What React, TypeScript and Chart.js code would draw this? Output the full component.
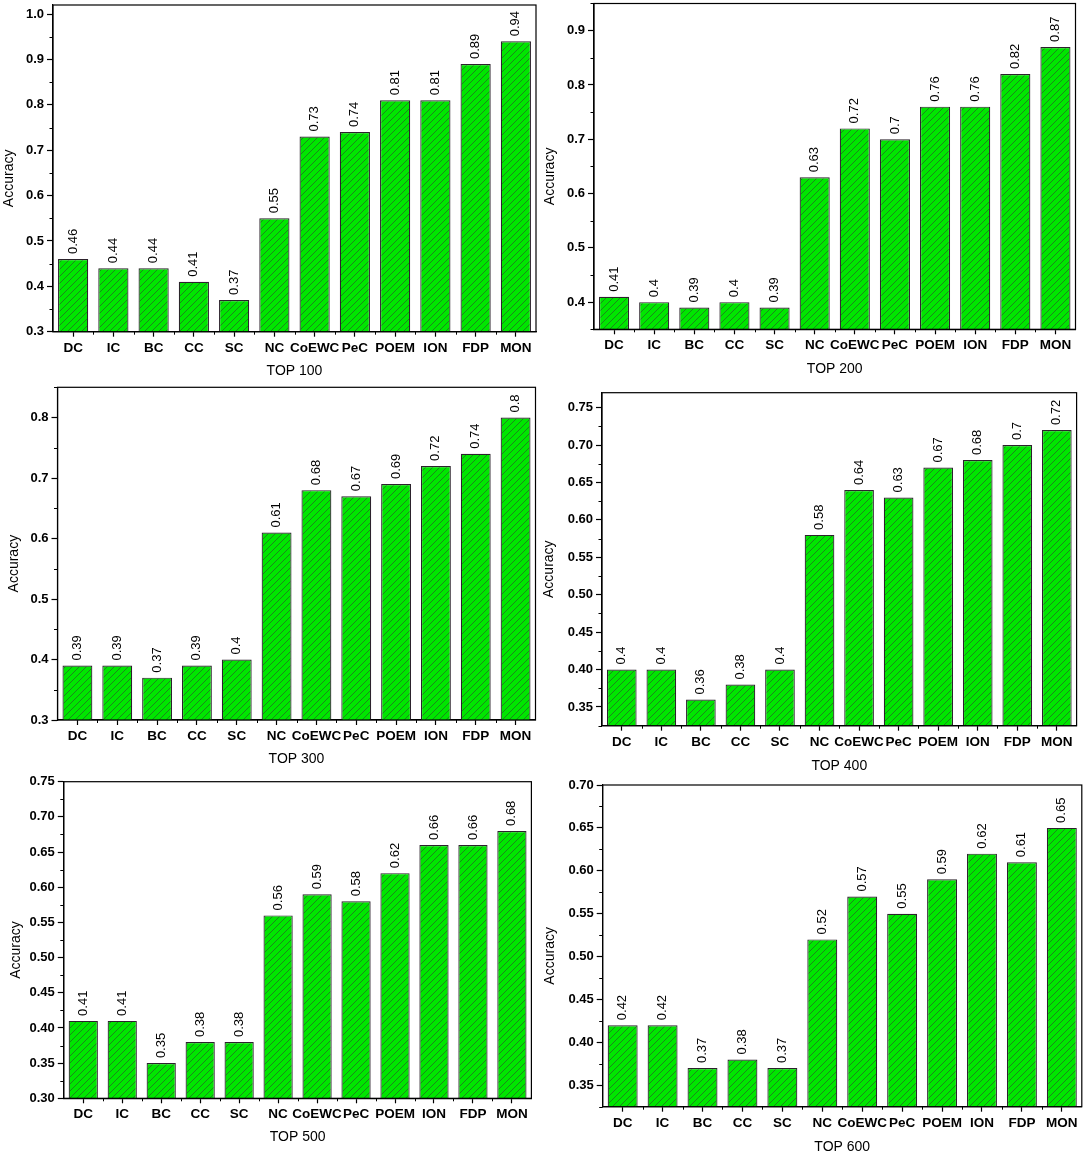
import React, { useEffect, useRef } from 'react'
import { Chart, registerables } from 'chart.js'

Chart.register(...registerables)

const categories = ['DC', 'IC', 'BC', 'CC', 'SC', 'NC', 'CoEWC', 'PeC', 'POEM', 'ION', 'FDP', 'MON']

const top100 = [0.46, 0.44, 0.44, 0.41, 0.37, 0.55, 0.73, 0.74, 0.81, 0.81, 0.89, 0.94]
const top200 = [0.41, 0.4, 0.39, 0.4, 0.39, 0.63, 0.72, 0.7, 0.76, 0.76, 0.82, 0.87]
const top300 = [0.39, 0.39, 0.37, 0.39, 0.4, 0.61, 0.68, 0.67, 0.69, 0.72, 0.74, 0.8]
const top400 = [0.4, 0.4, 0.36, 0.38, 0.4, 0.58, 0.64, 0.63, 0.67, 0.68, 0.7, 0.72]
const top500 = [0.41, 0.41, 0.35, 0.38, 0.38, 0.56, 0.59, 0.58, 0.62, 0.66, 0.66, 0.68]
const top600 = [0.42, 0.42, 0.37, 0.38, 0.37, 0.52, 0.57, 0.55, 0.59, 0.62, 0.61, 0.65]

const seriesList = [top100, top200, top300, top400, top500, top600]
const panelTitles = ['TOP 100', 'TOP 200', 'TOP 300', 'TOP 400', 'TOP 500', 'TOP 600']

// y axis limits and tick steps per panel
const yMins = [0.3, 0.35, 0.3, 0.325, 0.3, 0.325]
const yMaxs = [1.02, 0.95, 0.85, 0.77, 0.75, 0.7]
const majorSteps = [0.1, 0.1, 0.1, 0.05, 0.05, 0.05]
const minorSteps = [0.05, 0.05, 0.05, 0.025, 0.025, 0.025]
const tickDecimals = [1, 1, 1, 2, 2, 2]

const FONT = '"Liberation Sans", Arial, sans-serif'

// page placement of each panel: plot box [left, top, right, bottom]
const LAYOUT = [
  { x: 0, plot: [53, 5, 536, 331.7], yTitleX: 9, xTitleY: 372 },
  { x: 540, plot: [594, 3.5, 1075.5, 329.3], yTitleX: 550.5, xTitleY: 370 },
  { x: 0, plot: [57.5, 387.3, 535.5, 720], yTitleX: 14, xTitleY: 760 },
  { x: 540, plot: [602, 392.7, 1076.6, 725.7], yTitleX: 548.7, xTitleY: 766.7 },
  { x: 0, plot: [63.8, 781.7, 531.4, 1098.3], yTitleX: 15.7, xTitleY: 1137.7 },
  { x: 540, plot: [602.7, 785, 1081.8, 1106.7], yTitleX: 550.5, xTitleY: 1147.3 },
]

function makeHatch(): CanvasPattern | string {
  const s = 7
  const c = document.createElement('canvas')
  c.width = s
  c.height = s
  const g = c.getContext('2d')
  if (!g) return '#00e600'
  g.fillStyle = '#00e600'
  g.fillRect(0, 0, s, s)
  g.strokeStyle = '#1f7a1f'
  g.lineWidth = 0.9
  g.beginPath()
  g.moveTo(0, s)
  g.lineTo(s, 0)
  g.moveTo(-1, 1)
  g.lineTo(1, -1)
  g.moveTo(s - 1, s + 1)
  g.lineTo(s + 1, s - 1)
  g.stroke()
  return g.createPattern(c, 'repeat') || '#00e600'
}

function Panel({ index }: { index: number }) {
  const ref = useRef<HTMLCanvasElement>(null)
  const L = LAYOUT[index]
  const [pl, pt, pr, pb] = L.plot
  const top = Math.max(0, Math.floor(pt - 5))
  const width = Math.ceil(pr + 4 - L.x)
  const height = Math.round(L.xTitleY + 8.4 - top)

  useEffect(() => {
    if (!ref.current) return
    const values = seriesList[index]
    const yMin = yMins[index]
    const yMax = yMaxs[index]
    const major = majorSteps[index]
    const minor = minorSteps[index]
    const dec = tickDecimals[index]

    const decor = {
      id: 'decor',
      afterDraw(chart: Chart) {
        const { ctx, chartArea: ca } = chart
        const xs = chart.scales.x
        const ys = chart.scales.y
        ctx.save()
        // frame
        ctx.strokeStyle = '#000'
        ctx.lineWidth = 1.2
        ctx.strokeRect(ca.left, ca.top, ca.right - ca.left, ca.bottom - ca.top)
        // minor ticks on y
        ctx.lineWidth = 1
        ctx.beginPath()
        const k0 = Math.ceil(yMin / minor - 1e-6)
        const k1 = Math.floor(yMax / minor + 1e-6)
        for (let k = k0; k <= k1; k++) {
          if (k % 2 === 0) continue
          const py = Math.round(ys.getPixelForValue(k * minor)) + 0.5
          ctx.moveTo(ca.left - 3.5, py)
          ctx.lineTo(ca.left, py)
        }
        // minor ticks on x, between categories
        for (let i = 0; i < categories.length - 1; i++) {
          const px = Math.round((xs.getPixelForValue(i) + xs.getPixelForValue(i + 1)) / 2) + 0.5
          ctx.moveTo(px, ca.bottom)
          ctx.lineTo(px, ca.bottom + 3)
        }
        ctx.stroke()
        // value labels
        ctx.fillStyle = '#000'
        ctx.font = `13px ${FONT}`
        ctx.textAlign = 'left'
        ctx.textBaseline = 'middle'
        chart.getDatasetMeta(0).data.forEach((bar: any, i: number) => {
          ctx.save()
          ctx.translate(bar.x, bar.y - 5)
          ctx.rotate(-Math.PI / 2)
          ctx.fillText(String(values[i]), 0, 0)
          ctx.restore()
        })
        // y title
        ctx.font = `14px ${FONT}`
        ctx.textAlign = 'center'
        ctx.translate(L.yTitleX - L.x, (ca.top + ca.bottom) / 2 + 10)
        ctx.rotate(-Math.PI / 2)
        ctx.fillText('Accuracy', 0, 0)
        ctx.restore()
      },
    }

    const chart = new Chart(ref.current, {
      type: 'bar',
      data: {
        labels: categories,
        datasets: [{
          data: values,
          backgroundColor: makeHatch(),
          borderColor: '#2c222c',
          borderWidth: 1.2,
          barPercentage: 0.75,
          categoryPercentage: 1,
        }],
      },
      options: {
        responsive: false,
        animation: false,
        devicePixelRatio: 1,
        layout: { padding: { left: 0, top: pt - top, right: width - (pr - L.x), bottom: 0 } },
        plugins: { legend: { display: false }, tooltip: { enabled: false } },
        scales: {
          x: {
            offset: true,
            grid: { drawOnChartArea: false, drawTicks: true, tickLength: 5, tickColor: '#000', tickWidth: 1.2, offset: false },
            border: { display: true, color: '#000', width: 1.2 },
            ticks: {
              color: '#000',
              font: { family: FONT, size: 13.5, weight: 'bold' },
              maxRotation: 0,
              minRotation: 0,
              autoSkip: false,
              padding: 3,
            },
            title: { display: true, text: panelTitles[index], color: '#000', font: { family: FONT, size: 14 }, padding: 0 },
            afterFit: (s: any) => {
              s.height = height - (pb - top)
              s.paddingLeft = 0
              s.paddingRight = 0
            },
          },
          y: {
            min: yMin,
            max: yMax,
            grid: { drawOnChartArea: false, drawTicks: true, tickLength: 6, tickColor: '#000', tickWidth: 1.2 },
            border: { display: true, color: '#000', width: 1.2 },
            ticks: {
              autoSkip: false,
              color: '#000',
              font: { family: FONT, size: 13, weight: 'bold' },
              padding: 3,
              callback: (v: any) => Number(v).toFixed(dec),
            },
            afterBuildTicks: (s: any) => {
              const out = []
              const k0 = Math.ceil(yMin / major - 1e-6)
              const k1 = Math.floor(yMax / major + 1e-6)
              for (let k = k0; k <= k1; k++) out.push({ value: Number((k * major).toFixed(4)) })
              s.ticks = out
            },
            afterFit: (s: any) => {
              s.width = pl - L.x
              s.paddingTop = 0
              s.paddingBottom = 0
            },
          },
        },
      },
      plugins: [decor],
    } as any)

    return () => chart.destroy()
  }, [index])

  return (
    <canvas
      ref={ref}
      width={width}
      height={height}
      style={{ position: 'absolute', left: L.x, top, width, height, display: 'block' }}
    />
  )
}

export default function App() {
  return (
    <div style={{ position: 'absolute', left: 0, top: 0, width: 1084, height: 1154, background: '#fff' }}>
      {LAYOUT.map((_, i) => <Panel key={i} index={i} />)}
    </div>
  )
}
